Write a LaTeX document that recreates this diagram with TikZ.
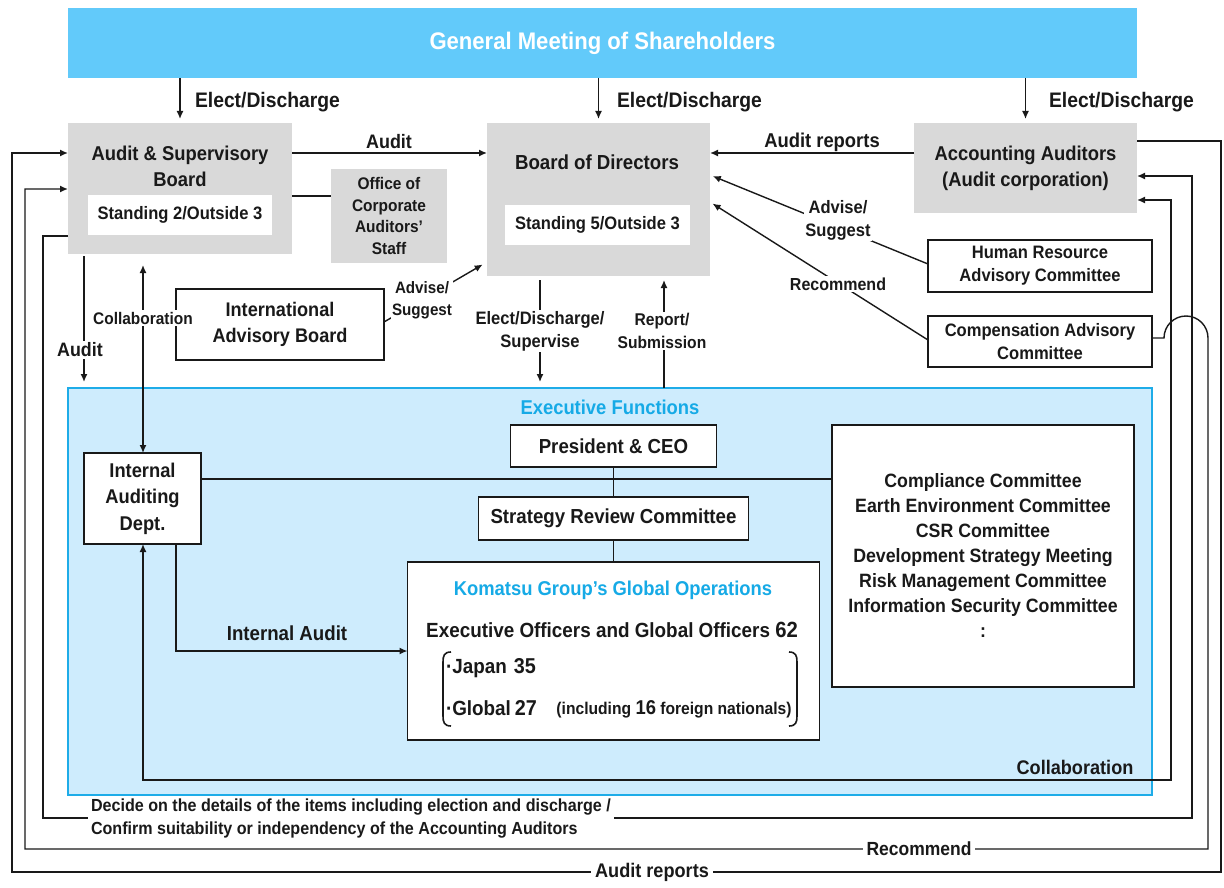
\documentclass[tikz,border=0pt]{standalone}
\usepackage{fontspec}
\setmainfont[FakeStretch=0.92]{Liberation Sans}
\usetikzlibrary{arrows.meta}
\definecolor{banner}{RGB}{98,202,250}
\definecolor{execbg}{RGB}{206,236,253}
\definecolor{execbd}{RGB}{30,172,232}
\definecolor{graybg}{RGB}{217,217,217}
\definecolor{bluetxt}{RGB}{22,170,230}
\definecolor{txt}{RGB}{25,25,25}
\newcommand{\myfs}[2]{\fontsize{#1}{#2}\selectfont}
\begin{document}
\begin{tikzpicture}[x=1pt,y=-1pt,
  every node/.style={text=txt, inner sep=0pt, outer sep=0pt},
  graybox/.style={fill=graybg, draw=none},
  wbox/.style={draw=txt, line width=1.8pt, fill=white},
  conn/.style={line width=1.4pt, draw=txt},
  arr/.style={conn, -{Latex[length=8pt,width=7pt]}},
  barr/.style={conn, {Latex[length=8pt,width=7pt]}-{Latex[length=8pt,width=7pt]}},
  lbl/.style={fill=white, inner sep=1.5pt, align=center},
  fs/.style={font=\bfseries\myfs{#1}{#1}, align=center}]
\useasboundingbox (0,0) rectangle (1224,888);
\fill[white] (0,0) rectangle (1224,888);

% banner
\node[fill=banner, minimum width=1069pt, minimum height=70pt, text=white,
      font=\bfseries\myfs{24}{28}] (gm) at (602.5,43) {General Meeting of Shareholders};

% executive functions area
\node[fill=execbg, draw=execbd, line width=2.5pt, minimum width=1084pt, minimum height=407pt] (exec) at (610,591.5) {};
\node[fs=20, text=bluetxt] (exect) at (610,407) {Executive Functions};

% audit & supervisory board
\node[graybox, minimum width=224pt, minimum height=131pt] (asb) at (180,188.5) {};
\node[font=\bfseries\myfs{20}{26}, align=center] (asbt) at (180,166) {Audit \& Supervisory\\Board};
\node[fill=white, minimum width=184pt, minimum height=40pt, fs=18] (asbs) at (180,215) {Standing 2/Outside 3};

% office
\node[graybox, minimum width=116pt, minimum height=94pt, font=\bfseries\myfs{16.8}{21.5}, align=center] (off) at (389,216) {Office of\\Corporate\\Auditors'\\Staff};

% board of directors
\node[graybox, minimum width=223pt, minimum height=153pt] (bod) at (598.5,199.5) {};
\node[fs=20.3] (bodt) at (597,162) {Board of Directors};
\node[fill=white, minimum width=185pt, minimum height=40pt, fs=18] (bods) at (597.5,225) {Standing 5/Outside 3};

% accounting auditors
\node[graybox, minimum width=223pt, minimum height=90pt, font=\bfseries\myfs{20}{26}, align=center] (aa) at (1025.5,168) {Accounting Auditors\\(Audit corporation)};

% committees
\node[wbox, minimum width=224pt, minimum height=52pt, font=\bfseries\myfs{18}{23}, align=center] (hr) at (1040,266) {Human Resource\\Advisory Committee};
\node[wbox, minimum width=224pt, minimum height=51pt, font=\bfseries\myfs{18}{23}, align=center] (comp) at (1040,341.5) {Compensation Advisory\\Committee};
\node[wbox, minimum width=208pt, minimum height=71pt, font=\bfseries\myfs{19.7}{26}, align=center] (iab) at (280,324.5) {International\\Advisory Board};

% executive boxes
\node[wbox, minimum width=206pt, minimum height=42pt, fs=20.3] (pres) at (613.5,446) {President \& CEO};
\node[wbox, minimum width=270pt, minimum height=43pt, fs=20.3] (src) at (613.5,518.5) {Strategy Review Committee};
\node[wbox, minimum width=412pt, minimum height=178pt] (glob) at (613.5,651) {};
\node[wbox, minimum width=302pt, minimum height=262pt, font=\bfseries\myfs{19.3}{25}, align=center] (comm) at (983,556)
  {Compliance Committee\\Earth Environment Committee\\CSR Committee\\Development Strategy Meeting\\Risk Management Committee\\Information Security Committee\\:};
\node[wbox, minimum width=117pt, minimum height=91pt, font=\bfseries\myfs{19.9}{26.5}, align=center] (iad) at (142.5,498.5) {Internal\\Auditing\\Dept.};

% global operations content
\node[fs=20, text=bluetxt] (globt) at (613,590) {Komatsu Group's Global Operations};
\node[fs=20.5] (globo) at (612,630) {Executive Officers and Global Officers {\myfs{22}{25}62}};
\node[fs=20.5, anchor=west] (japan) at (446,668) {·Japan\hspace{7pt}{\myfs{21.5}{25}35}};
\node[fs=20.5, anchor=west] (global) at (446,708) {·Global\hspace{4pt}{\myfs{21.5}{25}27}};
\node[font=\bfseries\myfs{17}{20}] (incl) at (674,709) {(including {\myfs{20}{20}16} foreign nationals)};
\draw[line width=1.6pt, draw=txt] (451,652) .. controls (444,652) and (443,656) .. (443,662) -- (443,716) .. controls (443,722) and (444,726) .. (451,726);
\draw[line width=1.6pt, draw=txt] (789,652) .. controls (796,652) and (797,656) .. (797,662) -- (797,716) .. controls (797,722) and (796,726) .. (789,726);

% elect / discharge arrows
\draw[arr, shorten >=4pt] (asb.north |- gm.south) -- (asb.north);
\draw[arr, shorten >=4pt] (bod.north |- gm.south) -- (bod.north);
\draw[arr, shorten >=4pt] (aa.north |- gm.south) -- (aa.north);
\node[fs=21, anchor=west] (ed1) at (195,102) {Elect/Discharge};
\node[fs=21, anchor=west] (ed2) at (617,102) {Elect/Discharge};
\node[fs=21, anchor=west] (ed3) at (1049,102) {Elect/Discharge};

% audit, audit reports
\draw[arr] (asb.east |- 0,153) -- (bod.west |- 0,153);
\node[fs=19.5] (la) at (389,142) {Audit};
\draw[arr] (aa.west |- 0,153) -- (bod.east |- 0,153);
\node[fs=20] (lar) at (822,142) {Audit reports};
\draw[conn] (asb.east |- 0,196) -- (off.west |- 0,196);

% advisory connectors
\draw[arr, shorten >=3pt] (hr.west |- 0,264) -- (bod.east |- 0,175);
\draw[arr, shorten >=3pt] (comp.west |- 0,340) -- (bod.east |- 0,202);
\draw[arr, shorten >=5pt] (iab.east |- 0,322) -- (bod.west |- 0,262);
\node[lbl, font=\bfseries\myfs{18}{23}] (las1) at (838,220) {Advise/\\Suggest};
\node[lbl, fs=17.4] (lrec1) at (838,284) {Recommend};
\node[lbl, font=\bfseries\myfs{16.5}{22}] (las2) at (422,300) {Advise/\\Suggest};

% board <-> executive
\draw[arr, shorten <=4pt, shorten >=6pt] (bod.south -| 540,0) -- (exec.north -| 540,0);
\node[lbl, font=\bfseries\myfs{18}{23}] (lesd) at (540,331) {Elect/Discharge/\\Supervise};
\draw[arr, shorten >=4pt] (exec.north -| 664,0) -- (bod.south -| 664,0);
\node[lbl, font=\bfseries\myfs{17}{23}] (lrs) at (662,331) {Report/\\Submission};

% ASB audit & collaboration
\draw[arr, shorten <=2pt, shorten >=6pt] (asb.south -| 84,0) -- (exec.north -| 84,0);
\node[lbl, fs=19.4] (laud2) at (80,350) {Audit};
\draw[barr, shorten >=11pt] (iad.north -| 143,0) -- (asb.south -| 143,0);
\node[lbl, fs=16.8] (lcol1) at (143,318) {Collaboration};

% inside executive
\draw[conn] (iad.east |- 0,479) -- (comm.west |- 0,479);
\draw[conn] (pres) -- (src);
\draw[conn] (src) -- (glob);
\draw[arr] (iad.south -| 176,0) |- (glob.west |- 0,651);
\node[fs=20.3] (lia) at (287,633) {Internal Audit};
\draw[barr] (iad.south -| 143,0) |- (1171,780) |- (aa.east |- 0,200);
\node[fs=19.7] (lcol2) at (1075,767) {Collaboration};

% outer loops
\draw[arr] (asb.west |- 0,236) -| (43,818) -- (1192,818) |- (aa.east |- 0,176);
\draw[arr] (comp.east |- 0,338) -- (1164,338) arc[start angle=180, end angle=360, radius=22] -- (1208,849) -| (25,189) -- (asb.west |- 0,189);
\draw[arr] (aa.east |- 0,141) -| (1221,872) -| (12,153) -- (asb.west |- 0,153);
\node[lbl, anchor=west, align=left, font=\bfseries\myfs{17.5}{23}, inner sep=3pt] (ldec) at (88,819)
  {Decide on the details of the items including election and discharge /\\Confirm suitability or independency of the Accounting Auditors};
\node[lbl, fs=19, inner sep=4pt] (lrec2) at (919,849) {Recommend};
\node[lbl, fs=19.7, inner sep=4pt] (lar2) at (652,872) {Audit reports};
\end{tikzpicture}
\end{document}
